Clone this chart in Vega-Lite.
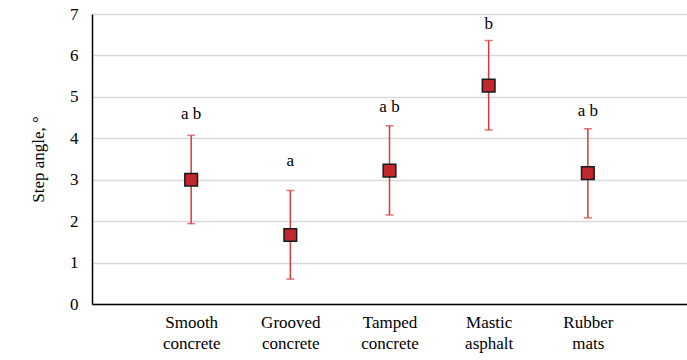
{
  "$schema": "https://vega.github.io/schema/vega-lite/v6.json",
  "autosize": {"type": "none"},
  "width": 595,
  "height": 290,
  "padding": {"left": 92, "top": 14, "right": 0, "bottom": 56},
  "background": "white",
  "config": {
    "view": {"stroke": null},
    "font": "Liberation Serif, DejaVu Serif, serif",
    "axis": {"labelFont": "Liberation Serif, DejaVu Serif, serif", "titleFont": "Liberation Serif, DejaVu Serif, serif", "labelFontSize": 17, "titleFontSize": 17, "labelColor": "#000", "titleColor": "#000", "titleFontWeight": "normal"}
  },
  "data": {"values": [
    {"surface": "Smooth concrete", "mean": 3.0, "lo": 1.94, "hi": 4.07, "letters": "a b", "ly": 4.46},
    {"surface": "Grooved concrete", "mean": 1.665, "lo": 0.6, "hi": 2.74, "letters": "a", "ly": 3.34},
    {"surface": "Tamped concrete", "mean": 3.22, "lo": 2.15, "hi": 4.3, "letters": "a b", "ly": 4.64},
    {"surface": "Mastic asphalt", "mean": 5.27, "lo": 4.2, "hi": 6.36, "letters": "b", "ly": 6.63},
    {"surface": "Rubber mats", "mean": 3.16, "lo": 2.08, "hi": 4.23, "letters": "a b", "ly": 4.53}
  ]},
  "encoding": {
    "x": {
      "field": "surface", "type": "nominal", "sort": null,
      "scale": {"type": "point", "padding": 1},
      "axis": {"title": null, "labelAngle": 0, "ticks": false, "domainColor": "#000", "domainWidth": 1.5, "labelPadding": 10, "labelLineHeight": 21, "labelExpr": "split(datum.label, ' ')", "grid": false}
    }
  },
  "layer": [
    {
      "mark": {"type": "rule", "color": "#D63B3B", "strokeWidth": 1.5},
      "encoding": {
        "y": {"field": "lo", "type": "quantitative", "scale": {"domain": [0, 7]},
          "axis": {"title": "Step angle, °", "values": [0,1,2,3,4,5,6,7], "ticks": false, "grid": true, "gridColor": "#D9D9D9", "gridWidth": 1.3, "domainColor": "#000", "domainWidth": 1.5, "labelPadding": 14, "titlePadding": 22}},
        "y2": {"field": "hi"}
      }
    },
    {
      "mark": {"type": "tick", "color": "#D63B3B", "size": 8, "thickness": 1.5},
      "encoding": {"y": {"field": "lo", "type": "quantitative"}}
    },
    {
      "mark": {"type": "tick", "color": "#D63B3B", "size": 8, "thickness": 1.5},
      "encoding": {"y": {"field": "hi", "type": "quantitative"}}
    },
    {
      "mark": {"type": "point", "shape": "square", "filled": true, "size": 160, "fill": "#C1272D", "stroke": "#1a1a1a", "strokeWidth": 1.5, "opacity": 1},
      "encoding": {"y": {"field": "mean", "type": "quantitative"}}
    },
    {
      "mark": {"type": "text", "fontSize": 17, "baseline": "alphabetic", "color": "#000", "font": "Liberation Serif, DejaVu Serif, serif"},
      "encoding": {"y": {"field": "ly", "type": "quantitative"}, "text": {"field": "letters"}}
    }
  ]
}
